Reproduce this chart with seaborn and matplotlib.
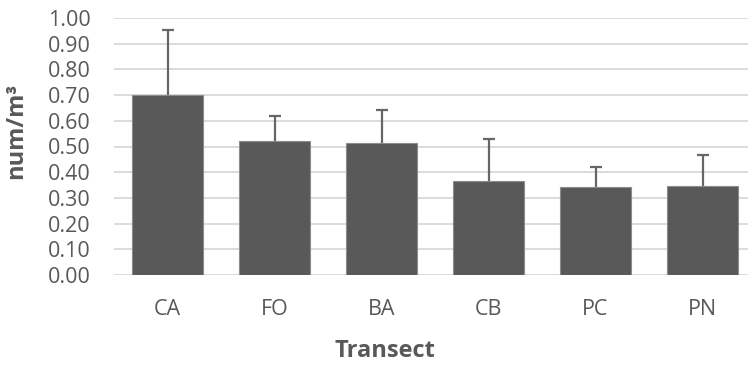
import matplotlib
matplotlib.use("Agg")
import matplotlib.pyplot as plt
import seaborn as sns
import pandas as pd
import numpy as np

categories = ["CA", "FO", "BA", "CB", "PC", "PN"]
means = [0.70, 0.52, 0.515, 0.366, 0.342, 0.347]
errors_up = [0.254, 0.097, 0.126, 0.162, 0.077, 0.119]
yticks = [0.0, 0.1, 0.2, 0.3, 0.4, 0.5, 0.6, 0.7, 0.8, 0.9, 1.0]

sns.set_theme(style="white")
plt.rcParams['font.family'] = ['Open Sans', 'DejaVu Sans']

df = pd.DataFrame({"Transect": categories, "value": means})

W, H = 748, 367
fig = plt.figure(figsize=(W / 100, H / 100), dpi=100)
left, right, top, bottom = 114, 748, 18, 275
ax = fig.add_axes([left / W, 1 - bottom / H, (right - left) / W, (bottom - top) / H])

sns.barplot(data=df, x="Transect", y="value", order=categories, color="#595959",
            saturation=1, width=0.66, edgecolor="#8c8c8c", linewidth=0.8, ax=ax,
            errorbar=None, zorder=3)

xpos = np.arange(len(categories))
_, caps, _ = ax.errorbar(xpos, means, yerr=[np.zeros(len(means)), errors_up], fmt="none",
                         ecolor="#666666", elinewidth=1.6, capsize=4, capthick=1.6, zorder=4)
# Only the upper cap is shown (plus-direction error bars)
if len(caps) == 2:
    caps[0].set_visible(False)

ax.set_xlim(-0.5, -0.5 + (right - left) / 107.0)
ax.set_ylim(0, 1.0)
ax.set_yticks(yticks)
ax.set_yticklabels([f"{v:.2f}" for v in yticks])
ax.yaxis.grid(True, color="#d9d9d9", linewidth=1.3, zorder=0)
ax.set_axisbelow(True)
for s in ax.spines.values():
    s.set_visible(False)
ax.tick_params(axis="both", length=0, colors="#595959", labelsize=15.5)
ax.tick_params(axis="y", pad=17)
ax.tick_params(axis="x", pad=17)

ax.set_xlabel("")
ax.set_ylabel("")
fig.text(385 / W, 1 - 351 / H, "Transect", fontsize=17, fontweight="bold",
         color="#595959", ha="center", va="center")
fig.text(16 / W, 1 - 131 / H, "num/m³", fontsize=17, fontweight="bold",
         color="#595959", ha="center", va="center", rotation=90)

fig.savefig("out.png", dpi=100)
